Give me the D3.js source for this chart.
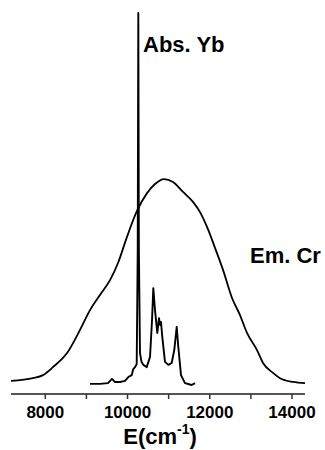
<!DOCTYPE html>
<html>
<head>
<meta charset="utf-8">
<script src="https://cdn.jsdelivr.net/npm/d3@7"></script>
<style>
  body { margin: 0; background: #fff; }
  text { font-family: "Liberation Sans", Arial, sans-serif; font-weight: bold; }
</style>
</head>
<body>
<div id="chart"></div>
<script>
// Cr emission (broad band), energy in cm-1 and relative intensity
var emEnergy = [7166, 7701, 7944, 8187, 8528, 8844, 9087, 9330, 9574, 9768, 9987, 10230, 10474, 10668,
                10887, 11106, 11349, 11592, 11763, 11933, 12127, 12322, 12541, 12735, 12906, 13149,
                13295, 13538, 13708, 14024, 14316];
var emInt = [0.032, 0.039, 0.047, 0.068, 0.105, 0.166, 0.218, 0.258, 0.297, 0.342, 0.411, 0.479, 0.526, 0.550,
             0.563, 0.555, 0.529, 0.503, 0.476, 0.437, 0.382, 0.324, 0.250, 0.205, 0.158, 0.113,
             0.079, 0.053, 0.039, 0.029, 0.026];

// Yb absorption
var absEnergy = [9087, 9330, 9525, 9622, 9695, 9817, 9938, 10019, 10101, 10140, 10181, 10223, 10248, 10262,
                 10276, 10303, 10340, 10384, 10467, 10547, 10596, 10627, 10668, 10724, 10765, 10790, 10814,
                 10846, 10911, 10992, 11074, 11137, 11196, 11235, 11300, 11397, 11560, 11641];
var absInt = [0.024, 0.024, 0.026, 0.037, 0.029, 0.029, 0.032, 0.042, 0.047, 0.063, 0.068, 0.076, 0.376, 1.0,
              0.376, 0.105, 0.082, 0.074, 0.068, 0.095, 0.192, 0.276, 0.218, 0.158, 0.197, 0.179, 0.187,
              0.147, 0.082, 0.074, 0.079, 0.113, 0.174, 0.121, 0.047, 0.026, 0.021, 0.026];

var majorTicks = [8000, 10000, 12000, 14000];
var allTicks = [8000, 9000, 10000, 11000, 12000, 13000, 14000];

var width = 325, height = 450;

var x = d3.scaleLinear().domain([7166, 14316]).range([11, 305]);
var y = d3.scaleLinear().domain([0, 1]).range([393, 13]);

var svg = d3.select("#chart").append("svg")
    .attr("width", width)
    .attr("height", height);

var emData = emEnergy.map(function(e, i) { return [e, emInt[i]]; });
var absData = absEnergy.map(function(e, i) { return [e, absInt[i]]; });

var emLine = d3.line()
    .curve(d3.curveMonotoneX)
    .x(function(d) { return x(d[0]); })
    .y(function(d) { return y(d[1]); });

var absLine = d3.line()
    .x(function(d) { return x(d[0]); })
    .y(function(d) { return y(d[1]); });

svg.append("path")
    .attr("d", emLine(emData))
    .attr("fill", "none")
    .attr("stroke", "#000")
    .attr("stroke-width", 1.8);

svg.append("path")
    .attr("d", absLine(absData))
    .attr("fill", "none")
    .attr("stroke", "#000")
    .attr("stroke-width", 1.9)
    .attr("stroke-linejoin", "round");

// bottom axis
var axis = svg.append("g").attr("transform", "translate(0,394)");
axis.append("line")
    .attr("x1", x.range()[0]).attr("x2", x.range()[1])
    .attr("stroke", "#555").attr("stroke-width", 2);
axis.selectAll(".tick").data(allTicks).enter().append("line")
    .attr("x1", function(d) { return x(d); })
    .attr("x2", function(d) { return x(d); })
    .attr("y1", 0).attr("y2", 5)
    .attr("stroke", "#333").attr("stroke-width", 1.5);
axis.selectAll(".lbl").data(majorTicks).enter().append("text")
    .attr("x", function(d) { return x(d); })
    .attr("y", 24)
    .attr("text-anchor", "middle")
    .attr("font-size", 17)
    .text(function(d) { return d; });

var title = svg.append("text")
    .attr("x", 160).attr("y", 444)
    .attr("text-anchor", "middle")
    .attr("font-size", 22);
title.append("tspan").text("E(cm");
title.append("tspan").attr("font-size", 14).attr("dy", -10).text("-1");
title.append("tspan").attr("dy", 10).text(")");

svg.append("text")
    .attr("x", 143).attr("y", 52)
    .attr("font-size", 22)
    .text("Abs. Yb");

svg.append("text")
    .attr("x", 250).attr("y", 263)
    .attr("font-size", 22)
    .text("Em. Cr");
</script>
</body>
</html>
